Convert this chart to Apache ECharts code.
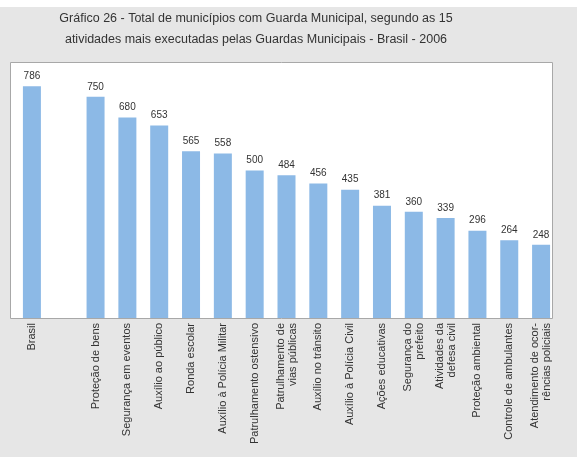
<!DOCTYPE html>
<html>
<head>
<meta charset="utf-8">
<script src="https://cdn.jsdelivr.net/npm/echarts@6/dist/echarts.min.js"></script>
<style>
  html, body { margin: 0; padding: 0; background: #fff; }
  #chart { width: 577px; height: 460px; }
</style>
</head>
<body>
<div id="chart"></div>
<script>
// categories (empty slot after Brasil is a gap in the original)
const categories = [
  'Brasil', '',
  'Proteção de bens',
  'Segurança em eventos',
  'Auxílio ao público',
  'Ronda escolar',
  'Auxílio à Polícia Militar',
  'Patrulhamento ostensivo',
  'Patrulhamento de\nvias públicas',
  'Auxílio no trânsito',
  'Auxílio à Polícia Civil',
  'Ações educativas',
  'Segurança do\nprefeito',
  'Atividades da\ndefesa civil',
  'Proteção ambiental',
  'Controle de ambulantes',
  'Atendimento de ocor-\nrências policiais'
]
const values = [786, '-', 750, 680, 653, 565, 558, 500, 484, 456, 435, 381, 360, 339, 296, 264, 248]

const chart = echarts.init(document.getElementById('chart'))

const font = 'Liberation Sans, Arial, sans-serif'

const option = {
  animation: false,
  backgroundColor: '#fff',
  graphic: [
    {
      // grey frame of the figure
      type: 'rect',
      z: -10,
      shape: { x: 0, y: 7, width: 577, height: 450 },
      style: { fill: '#e6e6e6' }
    },
    {
      // plot box
      type: 'rect',
      z: -9,
      shape: { x: 10.5, y: 62.5, width: 542, height: 256 },
      style: { fill: '#fff', stroke: '#a8a8a8', lineWidth: 1 }
    }
  ],
  title: {
    text: 'Gráfico 26 - Total de municípios com Guarda Municipal, segundo as 15\natividades mais executadas pelas Guardas Municipais - Brasil - 2006',
    left: 251,
    top: 3,
    textAlign: 'center',
    textStyle: {
      fontFamily: font,
      fontSize: 12.5,
      fontWeight: 'normal',
      color: '#333',
      lineHeight: 21
    }
  },
  grid: {
    left: 16,
    right: 20,
    top: 62,
    bottom: 142
  },
  xAxis: {
    type: 'category',
    data: categories,
    axisLine: { show: false },
    axisTick: { show: false },
    axisLabel: {
      interval: 0,
      rotate: 90,
      margin: 5,
      fontFamily: font,
      fontSize: 11,
      color: '#333',
      lineHeight: 12
    }
  },
  yAxis: {
    type: 'value',
    min: 0,
    max: 868,
    show: false,
    splitLine: { show: false }
  },
  series: [
    {
      type: 'bar',
      data: values,
      barWidth: 18,
      itemStyle: { color: '#8cb9e6' },
      label: {
        show: true,
        position: 'top',
        distance: 5,
        fontFamily: font,
        fontSize: 10,
        color: '#333'
      }
    }
  ]
}

chart.setOption(option)
</script>
</body>
</html>
